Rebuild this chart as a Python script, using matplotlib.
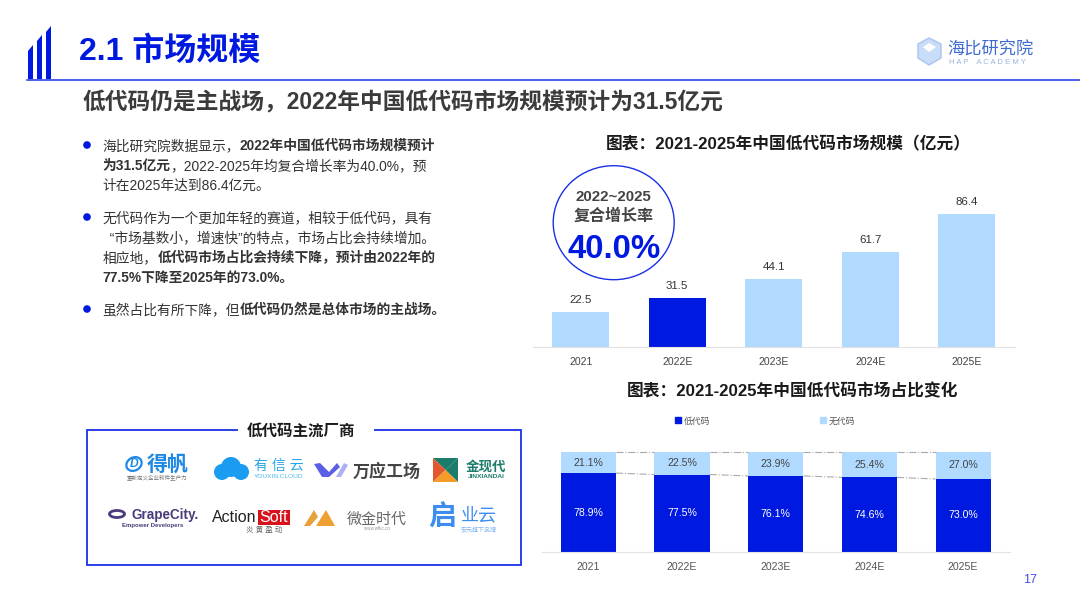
import matplotlib
matplotlib.use("Agg")
import matplotlib.pyplot as plt
from matplotlib.patches import Circle, Ellipse, Patch, Polygon, Rectangle

plt.rcParams["font.family"] = ["Liberation Sans", "Noto Sans CJK SC", "DejaVu Sans"]

# chart data
size_years = ["2021", "2022E", "2023E", "2024E", "2025E"]
size_values = [22.5, 31.5, 44.1, 61.7, 86.4]
share_years = ["2021", "2022E", "2023E", "2024E", "2025E"]
low_code_share = [78.9, 77.5, 76.1, 74.6, 73.0]
no_code_share = [21.1, 22.5, 23.9, 25.4, 27.0]

BLUE = "#0019E0"
LIGHT = "#B0DAFF"
LINE_BLUE = "#1A30E8"
DARK = "#3B3B3B"

# each line is a list of (text, bold)
body_lines = [
    (146, [("海比研究院数据显示，", False), ("2022年中国低代码市场规模预计", True)]),
    (166, [("为31.5亿元", True), ("，2022-2025年均复合增长率为40.0%，预", False)]),
    (186, [("计在2025年达到86.4亿元。", False)]),
    (218, [("无代码作为一个更加年轻的赛道，相较于低代码，具有", False)]),
    (238, [("  “市场基数小，增速快”的特点，市场占比会持续增加。", False)]),
    (258, [("相应地，", False), ("低代码市场占比会持续下降，预计由2022年的", True)]),
    (278, [("77.5%下降至2025年的73.0%。", True)]),
    (310, [("虽然占比有所下降，但", False), ("低代码仍然是总体市场的主战场。", True)]),
]
bullet_rows = [145, 217, 309]


def px(size):
    return size * 0.72


def add_axes_px(fig, left, top, right, bottom):
    return fig.add_axes([left / 1080, 1 - bottom / 607, (right - left) / 1080, (bottom - top) / 607])


def draw_runs(ax, x, y, runs, size, color):
    renderer = ax.figure.canvas.get_renderer()
    for text, bold in runs:
        t = ax.text(x, y, text, fontsize=size, color=color, va="center", ha="left",
                    fontweight="bold" if bold else "normal")
        box = t.get_window_extent(renderer)
        x = box.x1


fig = plt.figure(figsize=(10.8, 6.07), dpi=100, facecolor="white")
bg = fig.add_axes([0, 0, 1, 1])
bg.set_xlim(0, 1080)
bg.set_ylim(607, 0)
bg.axis("off")

# header
for x0, top in [(28, 45), (37, 35), (46, 26)]:
    bg.add_patch(Polygon([(x0, 79), (x0, top + 6), (x0 + 5, top), (x0 + 5, 79)], color=BLUE, lw=0))
bg.plot([27, 1080], [79.5, 79.5], color=LINE_BLUE, lw=1.1)
bg.text(79, 52, "2.1 市场规模", fontsize=px(32), fontweight="bold", color=BLUE, va="center")
bg.text(83, 103, "低代码仍是主战场，2022年中国低代码市场规模预计为31.5亿元", fontsize=px(22.7),
        fontweight="bold", color=DARK, va="center")

# academy logo
bg.add_patch(Polygon([(918, 44), (929, 38), (941, 44), (941, 58), (929, 65), (918, 58)],
                     facecolor="#C9DDF8", edgecolor="#A9C4F2", lw=1))
bg.add_patch(Polygon([(923, 47), (929, 43), (936, 47), (929, 52)], facecolor="white", lw=0))
bg.text(947, 49, "海比研究院", fontsize=px(17.2), color="#3F6BD0", va="center")
bg.text(949, 62, "H A P    A C A D E M Y", fontsize=px(7.8), color="#9DB4DC", va="center")

# body text
for row in bullet_rows:
    bg.add_patch(Circle((87, row), 3.8, color=BLUE, lw=0))
for y, runs in body_lines:
    draw_runs(bg, 102.5, y, runs, px(13.75), "#333333")

# vendor box
bg.add_patch(Rectangle((87, 430), 434, 135, fill=False, edgecolor=LINE_BLUE, lw=1.3))
bg.add_patch(Rectangle((238, 424), 136, 12, facecolor="white", lw=0, zorder=3))
bg.text(301, 431, "低代码主流厂商", fontsize=px(15.5), fontweight="bold", color="#1A1A1A",
        ha="center", va="center", zorder=4)

# vendor logos, first row
bg.add_patch(Ellipse((134, 464), 16, 13, angle=-30, fill=False, edgecolor="#1E88E5", lw=1.6))
bg.text(134, 464, "D", fontsize=px(12), style="italic", fontweight="bold", color="#1E88E5", ha="center", va="center")
bg.text(168, 465, "得帆", fontsize=px(21), fontweight="bold", color="#1E88E5", ha="center", va="center")
bg.text(157, 478, "重新定义企业软件生产力", fontsize=px(5.5), color="#777777", ha="center", va="center")
for cx, cy, r in [(222, 472, 8), (231, 467, 10), (241, 472, 8)]:
    bg.add_patch(Circle((cx, cy), r, color="#1A9CF0", lw=0))
bg.text(279, 466, "有 信 云", fontsize=px(14), color="#2AA6E8", ha="center", va="center")
bg.text(279, 476, "YOUXIN.CLOUD", fontsize=px(6.5), color="#4DB5EA", ha="center", va="center")
bg.add_patch(Polygon([(314, 464), (320, 463), (329, 472), (337, 463), (340, 467), (329, 477), (322, 477)],
                     color="#5A5FEA", lw=0))
bg.add_patch(Polygon([(336, 477), (344, 463), (348, 465), (341, 477)], color="#AAB0F2", lw=0))
bg.text(387, 471, "万应工场", fontsize=px(17), fontweight="bold", color="#444444", ha="center", va="center")
bg.add_patch(Polygon([(433, 458), (458, 458), (445.5, 470)], color="#1C7C6C", lw=0))
bg.add_patch(Polygon([(433, 458), (433, 482), (445.5, 470)], color="#E4572E", lw=0))
bg.add_patch(Polygon([(458, 458), (458, 482), (445.5, 470)], color="#1C7C6C", lw=0))
bg.add_patch(Polygon([(433, 482), (458, 482), (445.5, 470)], color="#F39C2A", lw=0))
bg.text(486, 467, "金现代", fontsize=px(13.5), fontweight="bold", color="#1C7C6C", ha="center", va="center")
bg.text(486, 477, "JINXIANDAI", fontsize=px(6.5), fontweight="bold", color="#1C7C6C", ha="center", va="center")

# vendor logos, second row
bg.add_patch(Ellipse((117, 514), 15, 7, fill=False, edgecolor="#4B3A7C", lw=2))
bg.text(165, 515, "GrapeCity.", fontsize=px(13.5), fontweight="bold", color="#4B3A7C", ha="center", va="center")
bg.text(153, 526, "Empower Developers", fontsize=px(6), fontweight="bold", color="#4B3A7C", ha="center", va="center")
bg.add_patch(Rectangle((258, 510), 32, 15, color="#D8121C", lw=0))
bg.text(234, 518, "Action", fontsize=px(16), color="#222222", ha="center", va="center")
bg.text(274, 518, "Soft", fontsize=px(16), color="white", ha="center", va="center")
bg.text(264, 530, "炎 黄 盈 动", fontsize=px(7.5), color="#666666", ha="center", va="center")
bg.add_patch(Polygon([(304, 526), (314, 510), (318, 517), (310, 526)], color="#E8A23C", lw=0))
bg.add_patch(Polygon([(316, 526), (326, 510), (335, 526)], color="#F0A030", lw=0))
bg.text(377, 520, "微金时代", fontsize=px(15), color="#666666", ha="center", va="center")
bg.text(377, 529, "www.wfkc.cn", fontsize=px(4.5), color="#999999", ha="center", va="center")
bg.text(442, 519, "启", fontsize=px(28), fontweight="bold", color="#3D8DF0", ha="center", va="center")
bg.text(479, 516, "业云", fontsize=px(18), color="#3D8DF0", ha="center", va="center")
bg.text(479, 530, "安元旗下品牌", fontsize=px(6), color="#7DB4F2", ha="center", va="center")

bg.text(1030, 580, "17", fontsize=px(12.5), color="#4A4AF0", ha="center", va="center")

# market size chart
bg.text(788, 144, "图表：2021-2025年中国低代码市场规模（亿元）", fontsize=px(16.7), fontweight="bold",
        color="#1A1A1A", ha="center", va="center")
ax1 = add_axes_px(fig, 532.5, 180, 1015, 347)
colors = [LIGHT, BLUE, LIGHT, LIGHT, LIGHT]
bars = ax1.bar(range(len(size_values)), size_values, width=0.59, color=colors)
ax1.bar_label(bars, labels=[f"{v:.1f}" for v in size_values], padding=5, fontsize=px(11.5), color="#333333")
ax1.set_xlim(-0.5, 4.5)
ax1.set_ylim(0, 86.4 * 167 / 133.5)
ax1.set_xticks(range(len(size_years)), size_years, fontsize=px(10.5), color="#444444")
ax1.set_yticks([])
ax1.tick_params(axis="x", length=0, pad=7)
ax1.patch.set_alpha(0)
for side in ["top", "right", "left"]:
    ax1.spines[side].set_visible(False)
ax1.spines["bottom"].set_color("#E2E2E2")

# growth badge
ring = Ellipse((613.7, 222.7), 121, 114, fill=False, edgecolor=LINE_BLUE, lw=1)
bg.add_patch(ring)
bg.text(613.5, 197, "2022~2025", fontsize=px(15), fontweight="bold", color="#444444", ha="center", va="center")
bg.text(613.5, 216, "复合增长率", fontsize=px(16), fontweight="bold", color="#444444", ha="center", va="center")
bg.text(614, 249, "40.0%", fontsize=px(33), fontweight="bold", color=BLUE, ha="center", va="center")

# share chart
bg.text(793, 391, "图表：2021-2025年中国低代码市场占比变化", fontsize=px(16.7), fontweight="bold",
        color="#1A1A1A", ha="center", va="center")
ax2 = add_axes_px(fig, 541.5, 452, 1010, 552)
xs = range(len(low_code_share))
bar_w = 0.59
low_bars = ax2.bar(xs, low_code_share, width=bar_w, color=BLUE, label="低代码")
top_bars = ax2.bar(xs, no_code_share, width=bar_w, bottom=low_code_share, color=LIGHT, label="无代码")
ax2.bar_label(low_bars, labels=[f"{v:.1f}%" for v in low_code_share], label_type="center",
              fontsize=px(10.5), color="white")
ax2.bar_label(top_bars, labels=[f"{v:.1f}%" for v in no_code_share], label_type="center",
              fontsize=px(10.5), color="#444444")
for i in range(len(low_code_share) - 1):
    ax2.plot([i + bar_w / 2, i + 1 - bar_w / 2], [low_code_share[i], low_code_share[i + 1]],
             color="#AAAAAA", lw=0.8, ls="-.")
    ax2.plot([i + bar_w / 2, i + 1 - bar_w / 2], [100, 100], color="#AAAAAA", lw=0.8, ls="-.", clip_on=False)
ax2.set_xlim(-0.5, 4.5)
ax2.set_ylim(0, 100)
ax2.set_xticks(list(xs), share_years, fontsize=px(10.5), color="#555555")
ax2.set_yticks([])
ax2.tick_params(axis="x", length=0, pad=7)
ax2.patch.set_alpha(0)
for side in ["top", "right", "left"]:
    ax2.spines[side].set_visible(False)
ax2.spines["bottom"].set_color("#E2E2E2")
handles = [Patch(color=BLUE, label="低代码"), Patch(color=LIGHT, label="无代码")]
ax2.legend(handles=handles, ncol=2, frameon=False, loc="center", bbox_to_anchor=(0.477, 1.31),
           fontsize=px(8.8), labelcolor="#555555", handlelength=0.65, handleheight=0.65,
           handletextpad=0.3, columnspacing=12.6)

fig.savefig("out.png", dpi=100)
